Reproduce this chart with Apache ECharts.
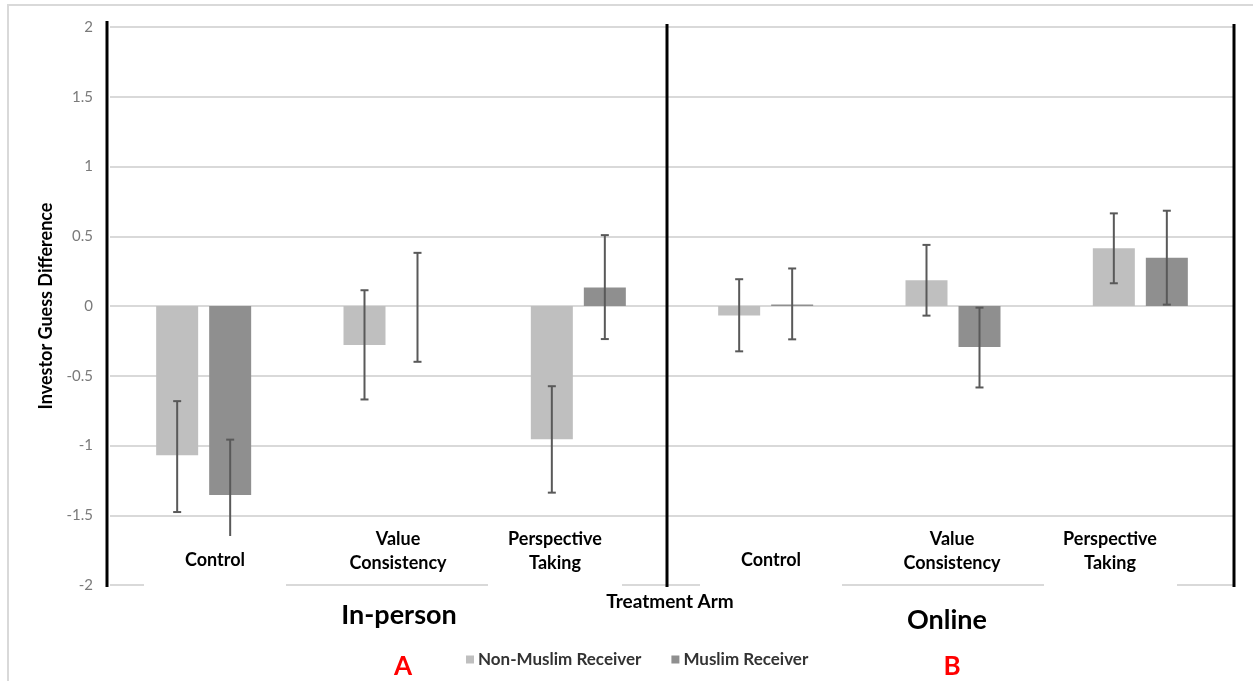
<!DOCTYPE html>
<html>
<head>
<meta charset="utf-8">
<script src="https://cdn.jsdelivr.net/npm/echarts@6/dist/echarts.min.js"></script>
<style>
  html, body { margin: 0; padding: 0; background: #ffffff; }
  #chart { width: 1253px; height: 681px; }
</style>
</head>
<body>
<div id="chart"></div>
<script>
// ---- data ----
const categories = ['Control', 'Value\nConsistency', 'Perspective\nTaking', 'Control', 'Value\nConsistency', 'Perspective\nTaking'];
const categoryKeys = ['ip-control', 'ip-value', 'ip-perspective', 'on-control', 'on-value', 'on-perspective'];
const groups = ['In-person', 'Online'];
const groupTags = ['A', 'B'];
const seriesNames = ['Non-Muslim Receiver', 'Muslim Receiver'];
const nonMuslim = [-1.07, -0.28, -0.955, -0.068, 0.185, 0.414];
const nonMuslimLow = [-1.477, -0.67, -1.338, -0.325, -0.069, 0.163];
const nonMuslimHigh = [-0.682, 0.113, -0.575, 0.192, 0.438, 0.664];
const muslim = [-1.355, 0, 0.132, 0.01, -0.294, 0.345];
const muslimLow = [-1.664, -0.40, -0.237, -0.239, -0.584, 0.01];
const muslimHigh = [-0.958, 0.381, 0.508, 0.269, -0.012, 0.683];
const yMin = -2, yMax = 2, yStep = 0.5;
const axisTitleX = 'Treatment Arm';
const axisTitleY = 'Investor Guess Difference';

// ---- style ----
const FONT = 'Lato, "Open Sans", sans-serif';
const BAR_W = 42, BAR_GAP = 11;
const LIGHT = '#bfbfbf', DARK = '#8f8f8f';

function errSeries(low, high, side) {
  return {
    type: 'custom',
    z: 5,
    silent: true,
    data: low.map((l, i) => [i, l, high[i]]),
    encode: { x: 0, y: [1, 2] },
    renderItem: function (params, api) {
      const lo = api.coord([api.value(0), api.value(1)]);
      const hi = api.coord([api.value(0), api.value(2)]);
      const x = lo[0] + side * (BAR_W / 2 + BAR_GAP / 2);
      const cw = 4;
      const st = { stroke: '#595959', lineWidth: 2 };
      return {
        type: 'group',
        children: [
          { type: 'line', shape: { x1: x, y1: lo[1], x2: x, y2: hi[1] }, style: st },
          { type: 'line', shape: { x1: x - cw, y1: lo[1], x2: x + cw, y2: lo[1] }, style: st },
          { type: 'line', shape: { x1: x - cw, y1: hi[1], x2: x + cw, y2: hi[1] }, style: st }
        ]
      };
    }
  };
}

// label placement (pixel positions for text annotations)
const labelPos = [
  { x: 215, y: 560, box: [144, 536, 142, 56] },
  { x: 398, y: 551, box: null },
  { x: 555, y: 551, box: [488, 522, 134, 70] },
  { x: 771, y: 560, box: [700, 536, 142, 56] },
  { x: 952, y: 551, box: null },
  { x: 1110, y: 551, box: [1044, 522, 133, 70] }
];

const graphics = [];
graphics.push({ type: 'rect', z: -10, shape: { x: 8, y: 5, width: 1300, height: 720 },
  style: { fill: 'none', stroke: '#d9d9d9', lineWidth: 2 } });
categories.forEach((c, i) => {
  const p = labelPos[i];
  if (p.box) {
    graphics.push({ type: 'rect', z: 50, shape: { x: p.box[0], y: p.box[1], width: p.box[2], height: p.box[3] },
      style: { fill: '#ffffff' } });
  }
  graphics.push({ type: 'text', z: 60, x: p.x, y: p.y,
    style: { text: c, fill: '#000000', font: 'bold 18px ' + FONT, textAlign: 'center', textVerticalAlign: 'middle', lineHeight: 24 } });
});
[[107, 21, 587], [667, 24, 587], [1234, 24, 587]].forEach(l => {
  graphics.push({ type: 'line', z: 70, shape: { x1: l[0], y1: l[1], x2: l[0], y2: l[2] },
    style: { stroke: '#000000', lineWidth: 3 } });
});
graphics.push({ type: 'text', z: 60, x: 670, y: 602,
  style: { text: axisTitleX, fill: '#000000', font: 'bold 19px ' + FONT, textAlign: 'center', textVerticalAlign: 'middle' } });
graphics.push({ type: 'text', z: 60, x: 399, y: 615,
  style: { text: groups[0], fill: '#000000', font: 'bold 27px ' + FONT, textAlign: 'center', textVerticalAlign: 'middle' } });
graphics.push({ type: 'text', z: 60, x: 947, y: 620,
  style: { text: groups[1], fill: '#000000', font: 'bold 27px ' + FONT, textAlign: 'center', textVerticalAlign: 'middle' } });
graphics.push({ type: 'text', z: 60, x: 403, y: 667,
  style: { text: groupTags[0], fill: '#ff0000', font: 'bold 26px ' + FONT, textAlign: 'center', textVerticalAlign: 'middle' } });
graphics.push({ type: 'text', z: 60, x: 952, y: 667,
  style: { text: groupTags[1], fill: '#ff0000', font: 'bold 26px ' + FONT, textAlign: 'center', textVerticalAlign: 'middle' } });

const chart = echarts.init(document.getElementById('chart'), null, { renderer: 'canvas' });
chart.setOption({
  animation: false,
  backgroundColor: '#ffffff',
  textStyle: { fontFamily: FONT },
  grid: { left: 110, top: 27, width: 1124, height: 558, containLabel: false },
  legend: {
    data: seriesNames,
    left: 461, top: 646,
    icon: 'rect', itemWidth: 8, itemHeight: 8, itemGap: 30,
    textStyle: { fontFamily: FONT, fontSize: 17, fontWeight: 'bold', color: '#333333', padding: [0, 0, 0, -1] },
    selectedMode: false
  },
  xAxis: {
    type: 'category',
    data: categoryKeys,
    axisLine: { show: false },
    axisTick: { show: false },
    axisLabel: { show: false },
    splitLine: { show: false }
  },
  yAxis: {
    type: 'value',
    min: yMin, max: yMax, interval: yStep,
    name: axisTitleY,
    nameLocation: 'middle',
    nameGap: 52,
    nameTextStyle: { fontFamily: FONT, fontSize: 18, fontWeight: 'bold', color: '#000000' },
    axisLine: { show: false },
    axisTick: { show: false },
    axisLabel: { margin: 17, fontSize: 15, color: '#7a7a7a', fontFamily: FONT },
    splitLine: { lineStyle: { color: '#d9d9d9', width: 2 } }
  },
  graphic: graphics,
  series: [
    { name: seriesNames[0], type: 'bar', data: nonMuslim, barWidth: BAR_W, barGap: (BAR_GAP / BAR_W * 100) + '%',
      itemStyle: { color: LIGHT }, z: 3 },
    { name: seriesNames[1], type: 'bar', data: muslim, barWidth: BAR_W,
      itemStyle: { color: DARK }, z: 3 },
    errSeries(nonMuslimLow, nonMuslimHigh, -1),
    errSeries(muslimLow, muslimHigh, 1)
  ]
});
</script>
</body>
</html>
